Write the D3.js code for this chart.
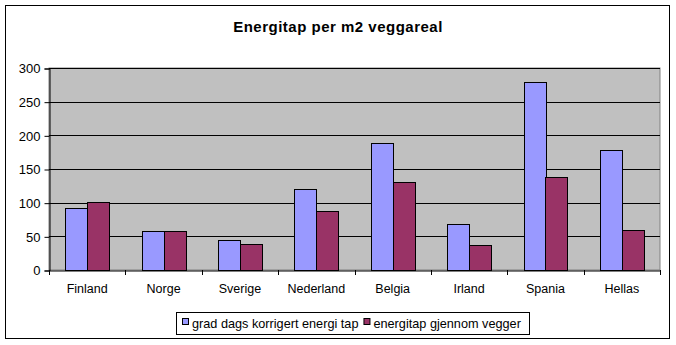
<!DOCTYPE html>
<html><head><meta charset="utf-8">
<script src="https://cdn.jsdelivr.net/npm/d3@7"></script>
<style>body{margin:0;background:#fff}svg{display:block;font-family:"Liberation Sans",Arial,sans-serif}</style>
</head><body><svg id="c" width="676" height="345"></svg>
<script>
const title = "Energitap per m2 veggareal";
const categories = ["Finland","Norge","Sverige","Nederland","Belgia","Irland","Spania","Hellas"];
const seriesNames = ["grad dags korrigert energi tap","energitap gjennom vegger"];
const seriesA = [92, 58, 44, 120, 188, 68, 279, 178];
const seriesB = [101, 58, 38, 87, 130, 37, 138, 59];
const yTicks = [0,50,100,150,200,250,300];
const colors = ["#9999FF","#993366"];

const svg = d3.select("#c");
svg.append("rect").attr("x",5.5).attr("y",5.5).attr("width",664).attr("height",333)
  .attr("fill","#fff").attr("stroke","#000").attr("stroke-width",1);

const L=49, R=660, T=68, B=270;
const x = d3.scaleBand().domain(categories).range([L,R]);
const y = d3.scaleLinear().domain([0,300]).range([B,T]);
const bw = x.bandwidth()/3.5;

svg.append("rect").attr("x",L).attr("y",T).attr("width",R-L).attr("height",B-T).attr("fill","#C0C0C0")
  .attr("stroke","#808080").attr("stroke-width",1);

svg.append("g").selectAll("line").data(yTicks.filter(d=>d>0)).join("line")
  .attr("x1",L).attr("x2",R).attr("y1",d=>Math.round(y(d))+0.5).attr("y2",d=>Math.round(y(d))+0.5)
  .attr("stroke","#000");

const data = [seriesA, seriesB];
data.forEach((vals,si)=>{
  svg.append("g").selectAll("rect").data(vals).join("rect")
    .attr("x",(d,i)=>Math.round(x(categories[i]) + x.bandwidth()/2 - bw + si*bw)+0.5)
    .attr("y",d=>Math.round(y(d))+0.5)
    .attr("width",Math.round(bw))
    .attr("height",d=>Math.round(B)-Math.round(y(d)))
    .attr("fill",colors[si]).attr("stroke","#000").attr("stroke-width",1);
});

// axes
const yAxis = d3.axisLeft(y).tickValues(yTicks).tickSize(5).tickPadding(4);
const gy = svg.append("g").attr("transform",`translate(${L+0.5},0.5)`).call(yAxis);
gy.select(".domain").attr("stroke","#000");
gy.selectAll("text").attr("font-size",13).attr("fill","#000").attr("font-family","Liberation Sans, Arial, sans-serif");

const xAxis = d3.axisBottom(x).tickSize(0).tickPadding(14);
const gx = svg.append("g").attr("transform",`translate(0,${B+0.5})`).call(xAxis);
gx.select(".domain").attr("stroke","#000");
gx.selectAll("text").attr("font-size",12.5).attr("fill","#000").attr("font-family","Liberation Sans, Arial, sans-serif");
// category boundary ticks
const bounds = categories.map(c=>x(c)).concat([R]);
svg.append("g").selectAll("line").data(bounds).join("line")
  .attr("x1",d=>Math.round(d)+0.5).attr("x2",d=>Math.round(d)+0.5)
  .attr("y1",B).attr("y2",B+5).attr("stroke","#000");

svg.append("text").attr("x",338).attr("y",32).attr("text-anchor","middle")
  .attr("font-size",15).attr("letter-spacing",0.5).attr("font-weight","bold").text(title);

// legend
const lg = svg.append("g");
lg.append("rect").attr("x",176.5).attr("y",312.5).attr("width",353).attr("height",22)
  .attr("fill","#fff").attr("stroke","#000");
let lx = 182;
seriesNames.forEach((n,i)=>{
  lg.append("rect").attr("x",lx+0.5).attr("y",318.5).attr("width",6).attr("height",6)
    .attr("fill",colors[i]).attr("stroke","#000");
  const t = lg.append("text").attr("x",lx+10).attr("y",328).attr("font-size",12.7).text(n);
  lx += 10 + t.node().getComputedTextLength() + 5;
});
</script></body></html>
